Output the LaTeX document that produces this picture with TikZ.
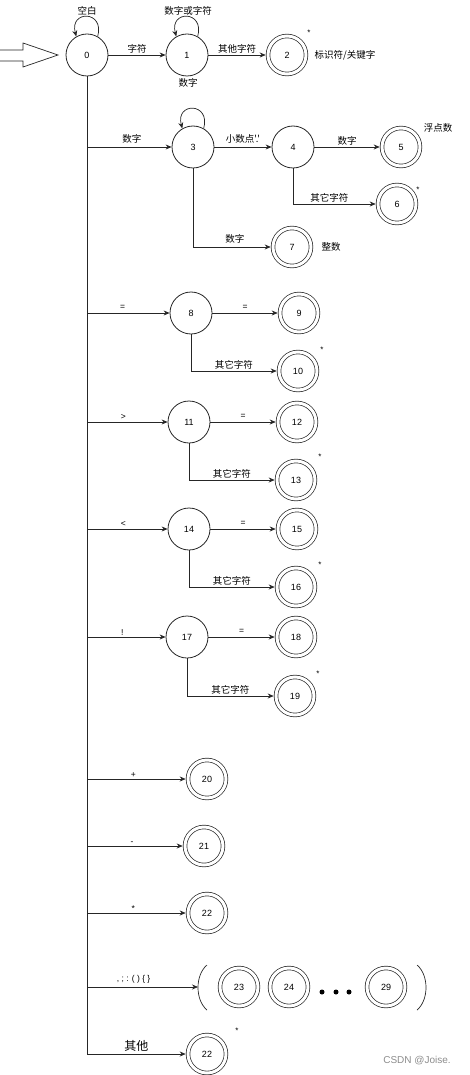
\documentclass[tikz,border=0pt]{standalone}
\usepackage{fontspec}
\setmainfont{Liberation Sans}
\newfontfamily\cjk{Noto Sans CJK SC}
\usetikzlibrary{arrows.meta}
\begin{document}
\begin{tikzpicture}[x=1pt,y=-1pt,
  st/.style={circle,draw=black!85,line width=0.8pt,minimum size=42pt,inner sep=0pt,font=\fontsize{9}{10}\selectfont},
  acc/.style={circle,draw=black!85,line width=0.7pt,double,double distance=3pt,minimum size=38pt,inner sep=0pt,outer sep=2.3pt,font=\fontsize{9}{10}\selectfont},
  arr/.style={draw=black!85,line width=0.7pt,-{Stealth[length=6pt,width=5pt]}},
  ln/.style={draw=black!85,line width=0.8pt},
  lbl/.style={font=\cjk\fontsize{9.5}{10}\selectfont,inner sep=1pt},
  sym/.style={font=\fontsize{8.5}{10}\selectfont,inner sep=1pt},
  star/.style={font=\fontsize{8}{9}\selectfont,inner sep=0pt},
  dotc/.style={circle,fill=black,inner sep=0pt,minimum size=5pt}
]
\useasboundingbox (0,0) rectangle (469,1075);

% start arrow
\draw[ln,line width=0.7pt] (0,50) -- (23,50) -- (23,43) -- (58,55) -- (23,67) -- (23,61) -- (0,61);

% states
\node[st] (n0) at (87,55) {0};
\node[st] (n1) at (187,55) {1};
\node[acc] (n2) at (287,55) {2};
\node[st] (n3) at (193,147) {3};
\node[st] (n4) at (293,147) {4};
\node[acc] (n5) at (401,147) {5};
\node[acc] (n6) at (397,204) {6};
\node[acc] (n7) at (292,247) {7};
\node[st] (n8) at (191,313) {8};
\node[acc] (n9) at (299,313) {9};
\node[acc] (n10) at (298,371) {10};
\node[st] (n11) at (189,422) {11};
\node[acc] (n12) at (297,422) {12};
\node[acc] (n13) at (296,480) {13};
\node[st] (n14) at (189,529) {14};
\node[acc] (n15) at (297,529) {15};
\node[acc] (n16) at (296,587) {16};
\node[st] (n17) at (187,637) {17};
\node[acc] (n18) at (296,637) {18};
\node[acc] (n19) at (295,696) {19};
\node[acc] (n20) at (207,779) {20};
\node[acc] (n21) at (204,846) {21};
\node[acc] (n22a) at (207,913) {22};
\node[acc] (n23) at (239,987) {23};
\node[acc] (n24) at (289,987) {24};
\node[acc] (n29) at (386,987) {29};
\node[acc] (n22b) at (207,1054) {22};

% self loops
\draw[arr] (n0.60) .. controls (105,10) and (69,10) .. (n0.120);
\draw[arr] (n1.60) .. controls (205,10) and (169,10) .. (n1.120);
\draw[arr] (n3.60) .. controls (211,102) and (175,102) .. (n3.120);

% top row
\draw[arr] (n0) -- (n1) node[lbl,midway,above] {字符};
\draw[arr] (n1) -- (n2) node[lbl,midway,above] {其他字符};
\node[lbl] (l0) at (87,11) {空白};
\node[lbl] (l1) at (188,11) {数字或字符};
\node[lbl] (l1b) at (188,83) {数字};
\node[star] (s2) at (309,33) {*};
\node[lbl] (t2) at (345,55) {标识符/关键字};

% trunk
\coordinate (t3) at (87,147);
\coordinate (t8) at (87,313);
\coordinate (t11) at (87,422);
\coordinate (t14) at (87,529);
\coordinate (t17) at (87,637);
\coordinate (t20) at (87,779);
\coordinate (t21) at (87,846);
\coordinate (t22) at (87,913);
\coordinate (t23) at (87,987);
\coordinate (tend) at (87,1054);
\draw[ln] (n0.south) -- (tend);

% 3 group
\draw[arr] (t3) -- (n3) node[lbl,pos=0.53,above=2pt] {数字};
\draw[arr] (n3) -- (n4) node[lbl,midway,above=2pt] {小数点'.'};
\draw[arr] (n4) -- (n5) node[lbl,midway,above] {数字};
\draw[arr] (n4.south) |- (n6) node[lbl,pos=0.72,above] {其它字符};
\draw[arr] (n3.south) |- (n7) node[lbl,pos=0.77,above=2pt] {数字};
\node[lbl] (t5) at (438,128) {浮点数};
\node[star] (s6) at (418,190) {*};
\node[lbl] (t7) at (331,247) {整数};

% 8 group
\draw[arr] (t8) -- (n8) node[sym,pos=0.43,above=2pt] {=};
\draw[arr] (n8) -- (n9) node[sym,midway,above=2pt] {=};
\draw[arr] (n8.south) |- (n10) node[lbl,pos=0.75,above] {其它字符};
\node[star] (s10) at (322,350) {*};

% 11 group
\draw[arr] (t11) -- (n11) node[sym,pos=0.45,above=1pt] {>};
\draw[arr] (n11) -- (n12) node[sym,midway,above=2pt] {=};
\draw[arr] (n11.south) |- (n13) node[lbl,pos=0.75,above] {其它字符};
\node[star] (s13) at (320,457) {*};

% 14 group
\draw[arr] (t14) -- (n14) node[sym,pos=0.45,above=1pt] {<};
\draw[arr] (n14) -- (n15) node[sym,midway,above=2pt] {=};
\draw[arr] (n14.south) |- (n16) node[lbl,pos=0.75,above] {其它字符};
\node[star] (s16) at (320,565) {*};

% 17 group
\draw[arr] (t17) -- (n17) node[sym,pos=0.45,above=0pt] {!};
\draw[arr] (n17) -- (n18) node[sym,midway,above=2pt] {=};
\draw[arr] (n17.south) |- (n19) node[lbl,pos=0.75,above] {其它字符};
\node[star] (s19) at (318,674) {*};

% single-char tokens
\draw[arr] (t20) -- (n20) node[sym,pos=0.47,above=0pt] {+};
\draw[arr] (t21) -- (n21) node[sym,pos=0.47,above=0pt] {-};
\draw[arr] (t22) -- (n22a) node[sym,pos=0.47,above=0pt] {*};

% delimiters group
\coordinate (grp) at (198,987);
\draw[arr] (t23) -- (grp) node[sym,pos=0.42,above=2pt] {, ; : ( ) \{ \}};
\draw[ln,line width=0.7pt] (207,965) .. controls (195,975) and (195,1000) .. (207,1010);
\draw[ln,line width=0.7pt] (417,965) .. controls (429,975) and (429,1000) .. (417,1010);
\node[dotc] (d1) at (322,992) {};
\node[dotc] (d2) at (336,992) {};
\node[dotc] (d3) at (349,992) {};

% others
\draw[arr] (tend) -- (n22b) node[lbl,pos=0.5,above=1pt,font=\cjk\fontsize{12}{13}\selectfont] {其他};
\node[star] (s22) at (237,1031) {*};

\node[font=\fontsize{10}{11}\selectfont,text=black!45] (wm) at (417,1061) {CSDN @Joise.};
\end{tikzpicture}
\end{document}
